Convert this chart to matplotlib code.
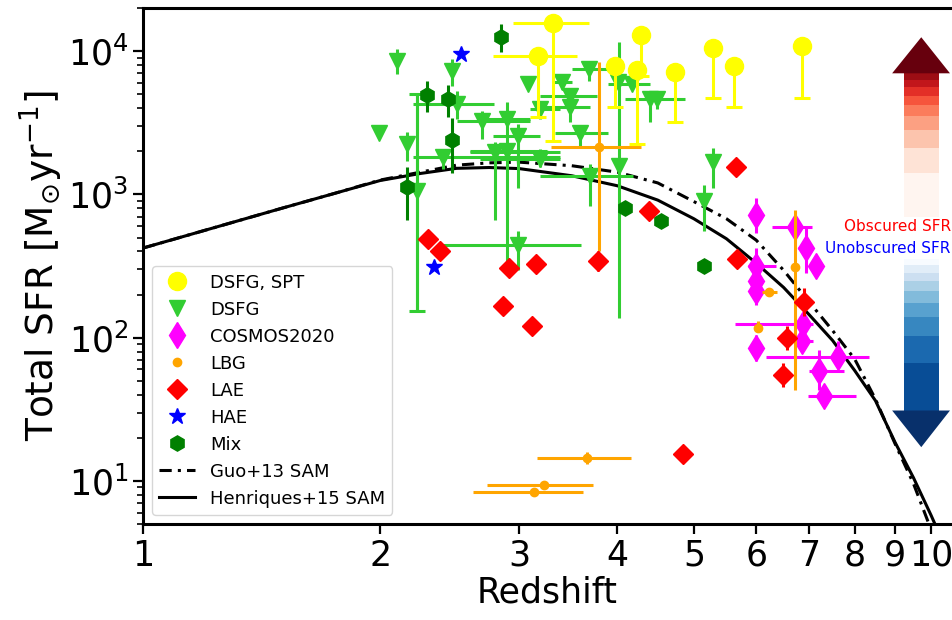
import numpy as np
import matplotlib
matplotlib.use("Agg")
from matplotlib import pyplot as plt
from matplotlib.patches import Rectangle, Polygon
from matplotlib.transforms import blended_transform_factory
from matplotlib.ticker import FixedLocator, FixedFormatter, NullLocator

nan = np.nan

# semi-analytic model curves
z_sam = [1.0, 1.25, 1.5, 1.75, 2.0, 2.25, 2.5, 2.75, 3.0, 3.5, 4.0, 4.5, 5.0,
         5.5, 6.0, 6.5, 7.0, 7.5, 8.0, 8.5, 9.0, 9.5, 10.0, 10.3]
sfr_henriques = [422, 600, 800, 1016, 1250, 1400, 1520, 1540, 1514, 1349, 1148,
                 912, 676, 490, 331, 224, 145, 95.5, 58.9, 36.3, 18.6, 10.5,
                 5.75, 3.98]
sfr_guo = [422, 600, 800, 1016, 1259, 1430, 1600, 1660, 1679, 1585, 1429, 1202,
           891, 676, 479, 295, 178, 112, 70.8, 37.2, 18.2, 9.55, 4.57, 2.82]

# DSFG, SPT
z_spt = [3.31, 3.17, 4.29, 3.97, 4.24, 4.73, 5.29, 5.62, 6.86]
sfr_spt = [15600, 9230, 12900, 7870, 7380, 7140, 10500, 7870, 10800]
z_spt_lo = [2.95, 2.78, nan, nan, nan, nan, nan, nan, nan]
z_spt_hi = [3.68, 3.55, nan, nan, nan, nan, nan, nan, nan]
sfr_spt_hi = [nan] * 9
sfr_spt_lo = [2370, 3480, 6700, 4085, 2260, 3210, 4720, 4085, 4720]

# DSFG
z_dsfg = [2.10, 1.99, 2.16, 2.47, 2.50, 2.23, 2.69, 2.90, 2.99, 2.80, 2.90,
          2.40, 3.19, 2.99, 3.08, 3.40, 3.48, 3.19, 3.48, 3.59, 3.68, 3.69,
          4.02, 4.01, 4.17, 4.40, 4.49, 5.29, 5.15]
sfr_dsfg = [8530, 2700, 2260, 7260, 4290, 1050, 3270, 3370, 2570, 1990, 2020,
            1835, 1780, 443, 5900, 6090, 4870, 3950, 4085, 2700, 7500, 1334,
            1590, 6090, 5900, 4640, 4640, 1695, 894]
z_dsfg_lo = [nan, nan, nan, nan, 2.20, nan, 2.50, 2.68, 2.78, 2.60, 2.60,
             2.20, 2.68, 2.40, nan, 3.30, 3.19, 3.10, 3.19, 3.33, 3.50, 3.19,
             nan, nan, 3.89, 4.09, nan, nan, nan]
z_dsfg_hi = [nan, nan, nan, nan, 2.79, nan, 3.10, 3.10, 3.19, 3.38, 3.26,
             3.38, 3.38, 3.60, nan, 3.50, 3.77, 3.38, 3.69, 3.89, 3.89, 4.19,
             nan, nan, 4.40, 4.87, nan, nan, nan]
sfr_dsfg_hi = [10300, nan, 2740, 8800, 5280, 5020, 3830, 4430, 3110, 2335, nan,
               2020, 2085, 553, nan, 6700, 5450, 4430, nan, 3010, 8390, 1640,
               11550, nan, nan, 5190, 5280, 2120, 1155]
sfr_dsfg_lo = [6920, nan, 1720, 5710, 3370, 154, 2450, 343, 1101, 659, nan,
               1515, 1563, 297, nan, 5450, 3210, 3370, nan, 2190, 6190, 826,
               138, nan, nan, 3210, 3950, 1101, 553]
dsfg_capped = [5]

# COSMOS2020
z_cos = [6.00, 6.72, 6.94, 7.15, 6.00, 6.00, 6.00, 6.00, 6.88, 6.86, 7.62,
         7.21, 7.32]
sfr_cos = [714, 590, 422, 316, 316, 249, 212, 85.3, 125, 95.3, 73.8, 58.1,
           38.9]
z_cos_lo = [nan, 6.28, 6.77, nan, 5.85, nan, nan, nan, 5.64, 6.72, 6.17,
            7.00, 6.98]
z_cos_hi = [nan, 7.06, 7.08, nan, 6.36, nan, nan, nan, 7.08, 7.08, 8.34,
            7.76, 8.03]
sfr_cos_hi = [938, nan, 600, nan, 422, nan, nan, 105, 145, nan, 95.3, 82.5, nan]
sfr_cos_lo = [536, nan, 282, nan, 169, nan, nan, 69.2, 100, nan, 62, 42.9, nan]

# LBG
z_lbg = [3.79, 6.72, 6.23, 6.03, 3.66, 3.23, 3.13]
sfr_lbg = [2155, 311, 208, 117, 14.5, 9.37, 8.39]
z_lbg_lo = [3.29, nan, 6.11, nan, 3.16, 2.73, 2.62]
z_lbg_hi = [4.29, nan, 6.38, nan, 4.16, 3.72, 3.62]
sfr_lbg_hi = [8390, 774, nan, 131, 15.9, nan, nan]
sfr_lbg_lo = [402, 42.9, nan, 112, 13.1, nan, nan]

# LAE
z_lae = [2.30, 2.38, 2.91, 3.15, 2.86, 3.12, 3.78, 4.39, 5.66, 5.68, 6.90,
         6.57, 6.49, 4.85]
sfr_lae = [487, 402, 306, 327, 167, 121, 343, 762, 1563, 354, 178, 100, 54.5,
           15.4]
sfr_lae_hi = [nan, nan, nan, nan, nan, nan, 402, nan, nan, nan, 222, 121, 66,
              nan]
sfr_lae_lo = [nan, nan, nan, nan, nan, nan, 292, nan, nan, nan, 142, 82.5, 45,
              nan]

# HAE
z_hae = [2.53, 2.34]
sfr_hae = [9530, 311]

# Mix
z_mix = [2.85, 2.29, 2.44, 2.47, 2.16, 4.09, 4.54, 5.15]
sfr_mix = [12500, 4950, 4640, 2410, 1120, 800, 649, 316]
sfr_mix_hi = [15400, 6190, 5810, 3430, 1560, nan, nan, nan]
sfr_mix_lo = [9840, 3770, 3480, 1420, 659, nan, nan, nan]

x_ticks = [1, 2, 3, 4, 5, 6, 7, 8, 9, 10]
x_ticklabels = ["1", "2", "3", "4", "5", "6", "7", "8", "9", "10"]


def get_err(center, lo, hi):
    c = np.asarray(center, dtype=float)
    lo = np.asarray(lo, dtype=float)
    hi = np.asarray(hi, dtype=float)
    lo = np.where(np.isnan(lo), c, lo)
    hi = np.where(np.isnan(hi), c, hi)
    return np.array([c - lo, hi - c])


def draw_group(ax, z, sfr, zlo, zhi, shi, slo, color, marker, ms, label, ycap=0):
    n = len(z)
    if zlo is None:
        zlo = zhi = [nan] * n
    if shi is None:
        shi = slo = [nan] * n
    ax.errorbar(z, sfr, xerr=get_err(z, zlo, zhi), fmt="none", ecolor=color,
                elinewidth=2.2)
    ax.errorbar(z, sfr, yerr=get_err(sfr, slo, shi), fmt="none", ecolor=color,
                elinewidth=2.2, capsize=ycap, capthick=2.2)
    h, = ax.plot(z, sfr, ls="none", marker=marker, ms=ms, color=color,
                 mec=color, label=label)
    return h


fig = plt.figure(figsize=(9.52, 6.2), dpi=100)
ax = fig.add_axes([0.1502, 0.1548, 0.8498, 0.8323])
ax.set_xscale("log")
ax.set_yscale("log")

guo, = ax.plot(z_sam, sfr_guo, color="black", lw=2.2, ls=(0, (4, 2, 1, 2)),
               label="Guo+13 SAM", zorder=1.5)
hen, = ax.plot(z_sam, sfr_henriques, color="black", lw=2.2,
               label="Henriques+15 SAM", zorder=1.5)

h_dsfg = draw_group(ax, z_dsfg, sfr_dsfg, z_dsfg_lo, z_dsfg_hi, sfr_dsfg_hi,
                    sfr_dsfg_lo, "limegreen", "v", 11, "DSFG")
idx = dsfg_capped
ax.errorbar(np.take(z_dsfg, idx), np.take(sfr_dsfg, idx),
            yerr=get_err(np.take(sfr_dsfg, idx), np.take(sfr_dsfg_lo, idx),
                         np.take(sfr_dsfg_hi, idx)),
            fmt="none", ecolor="limegreen", elinewidth=2.2, capsize=6, capthick=2.2)
h_mix = draw_group(ax, z_mix, sfr_mix, None, None, sfr_mix_hi, sfr_mix_lo,
                   "green", "h", 11, "Mix")
h_cos = draw_group(ax, z_cos, sfr_cos, z_cos_lo, z_cos_hi, sfr_cos_hi,
                   sfr_cos_lo, "magenta", "d", 13, "COSMOS2020")
h_lbg = draw_group(ax, z_lbg, sfr_lbg, z_lbg_lo, z_lbg_hi, sfr_lbg_hi,
                   sfr_lbg_lo, "orange", "o", 6, "LBG")
h_lae = draw_group(ax, z_lae, sfr_lae, None, None, sfr_lae_hi, sfr_lae_lo,
                   "red", "D", 10, "LAE")
h_hae, = ax.plot(z_hae, sfr_hae, ls="none", marker="*", ms=12, color="blue",
                 label="HAE")
h_spt = draw_group(ax, z_spt, sfr_spt, z_spt_lo, z_spt_hi, sfr_spt_hi,
                   sfr_spt_lo, "yellow", "o", 13, "DSFG, SPT", ycap=6)

# obscured / unobscured arrows
trans = blended_transform_factory(ax.transAxes, ax.transData)
red_edges = np.linspace(700, 7000, 10)
for i in range(9):
    ax.add_patch(Rectangle((0.9407, red_edges[i]), 0.0433,
                           red_edges[i + 1] - red_edges[i], transform=trans,
                           facecolor=plt.cm.Reds(i / 9), lw=0))
ax.add_patch(Polygon([[0.926, 7000], [0.9975, 7000], [0.962, 12500]],
                     closed=True, transform=trans, facecolor=plt.cm.Reds(1.0), lw=0))
blue_edges = np.linspace(355, 31, 10)
for i in range(9):
    ax.add_patch(Rectangle((0.9407, blue_edges[i + 1]), 0.0433,
                           blue_edges[i] - blue_edges[i + 1], transform=trans,
                           facecolor=plt.cm.Blues(i / 9), lw=0))
ax.add_patch(Polygon([[0.926, 31], [0.9975, 31], [0.962, 17.2]],
                     closed=True, transform=trans, facecolor=plt.cm.Blues(1.0), lw=0))
ax.text(0.9985, 600, "Obscured SFR", transform=trans, color="red", ha="right",
        va="center", fontsize=11)
ax.text(0.9985, 422, "Unobscured SFR", transform=trans, color="blue",
        ha="right", va="center", fontsize=11)

ax.set_xlim(1, 10.63)
ax.set_ylim(5, 2e4)
ax.xaxis.set_major_locator(FixedLocator(x_ticks))
ax.xaxis.set_major_formatter(FixedFormatter(x_ticklabels))
ax.xaxis.set_minor_locator(NullLocator())
ax.tick_params(which="major", length=7, width=1.6, labelsize=25)
ax.tick_params(which="minor", length=4, width=1.2)
for s in ax.spines.values():
    s.set_linewidth(2.2)
ax.spines["right"].set_visible(False)
ax.set_xlabel("Redshift", fontsize=25, labelpad=2)
ax.set_ylabel(r"Total SFR [M$_{\odot}$yr$^{-1}$]", fontsize=27, labelpad=2)

ax.legend(handles=[h_spt, h_dsfg, h_cos, h_lbg, h_lae, h_hae, h_mix, guo, hen],
          loc="lower left", fontsize=13)

fig.savefig("out.png", dpi=100)
